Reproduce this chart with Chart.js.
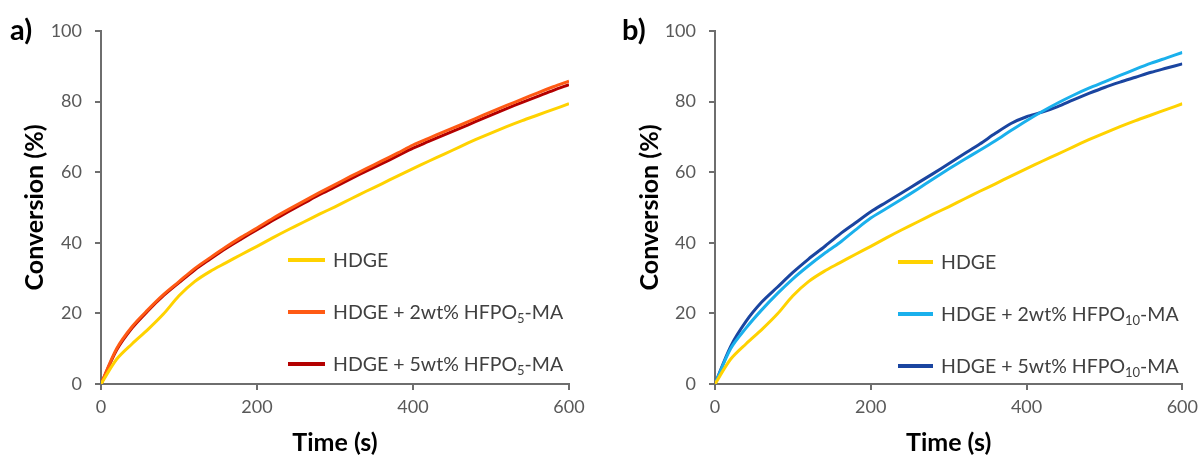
<!DOCTYPE html>
<html>
<head>
<meta charset="utf-8">
<script src="https://cdn.jsdelivr.net/npm/chart.js@4.4.1/dist/chart.umd.min.js"></script>
<style>
  body { margin: 0; background: #fff; font-family: Lato, "Noto Sans", sans-serif; }
  #wrap { position: relative; width: 1200px; height: 455px; overflow: hidden; }
  .panel { position: absolute; top: 0; width: 600px; height: 455px; }
  .tag { position: absolute; top: 11px; font-weight: bold; font-size: 29px; color: #000; }
  .legend { position: absolute; color: #404040; font-size: 19.5px; }
  .legend .row { position: absolute; left: 0; height: 24px; line-height: 24px; white-space: nowrap; }
  .legend .sw { position: absolute; top: 10px; height: 4px; }
  .legend .txt { position: absolute; top: 0; }
  .legend sub { font-size: 13px; vertical-align: -4px; line-height: 0; }
</style>
</head>
<body>
<div id="wrap">
  <div class="panel" style="left:0"><canvas id="chart-a"></canvas></div>
  <div class="panel" style="left:604px"><canvas id="chart-b"></canvas></div>
  <div class="tag" style="left:10px">a)</div>
  <div class="tag" style="left:622px">b)</div>
  <div class="legend" id="legend-a" style="left:288px; top:248px"></div>
  <div class="legend" id="legend-b" style="left:898px; top:250px"></div>
</div>
<script>
// time axis (s)
const timeS = [0, 20, 40, 60, 80, 100, 120, 140, 160, 180, 200, 220, 240, 260, 280, 300,
  320, 340, 360, 380, 400, 420, 440, 460, 480, 500, 520, 540, 560, 580, 600];

// conversion (%)
const hdge = [0, 7.0, 11.4, 15.4, 19.8, 25.0, 29.0, 31.9, 34.3, 36.7, 39.0, 41.4, 43.7, 45.9, 48.1, 50.2,
  52.4, 54.6, 56.7, 58.9, 61.0, 63.1, 65.1, 67.2, 69.2, 71.1, 72.9, 74.6, 76.2, 77.8, 79.4];
const hfpo5Wt2 = [0, 10.0, 16.3, 21.0, 25.3, 29.0, 32.7, 35.8, 38.8, 41.6, 44.2, 46.9, 49.4, 51.8, 54.2, 56.5,
  58.8, 61.0, 63.2, 65.4, 67.7, 69.6, 71.5, 73.3, 75.2, 77.1, 78.9, 80.7, 82.5, 84.2, 85.8];
const hfpo5Wt5 = [0, 9.6, 15.9, 20.7, 25.0, 28.7, 32.3, 35.4, 38.4, 41.1, 43.7, 46.3, 48.8, 51.2, 53.6, 55.8,
  58.1, 60.3, 62.4, 64.6, 66.8, 68.7, 70.6, 72.4, 74.3, 76.2, 78.0, 79.8, 81.5, 83.2, 84.8];
const hfpo10Wt2 = [0, 10.0, 15.9, 21.0, 25.6, 29.8, 33.5, 36.9, 40.0, 43.6, 47.0, 49.7, 52.4, 55.2, 58.1, 60.9,
  63.6, 66.2, 68.9, 71.8, 74.6, 77.2, 79.6, 81.8, 83.8, 85.6, 87.4, 89.2, 90.9, 92.4, 93.9];
const hfpo10Wt5 = [0, 10.6, 17.8, 23.2, 27.4, 31.6, 35.4, 38.8, 42.4, 45.6, 48.8, 51.5, 54.2, 56.9, 59.6, 62.4,
  65.2, 68.0, 71.0, 73.8, 75.7, 77.0, 78.6, 80.5, 82.3, 84.0, 85.5, 86.9, 88.3, 89.5, 90.7];

const xTicks = [0, 200, 400, 600];
const yTicks = [0, 20, 40, 60, 80, 100];

const axisGray = '#6e6e6e';
const fontFamily = 'Lato, "Noto Sans", sans-serif';

function toPoints(values) {
  return values.map((v, i) => ({ x: timeS[i], y: v }));
}

function makeDataset(label, values, color) {
  return {
    label: label,
    data: toPoints(values),
    borderColor: color,
    backgroundColor: color,
    borderWidth: 3,
    pointRadius: 0,
    tension: 0.3,
    fill: false
  };
}

// one panel; yWidth/rightPad/titleOffset place the plot area like the figure
function makePanel(canvasId, datasets, yWidth, rightPad, titleOffset) {
  const ctx = document.getElementById(canvasId).getContext('2d');
  return new Chart(ctx, {
    type: 'line',
    data: { datasets: datasets },
    options: {
      responsive: true,
      maintainAspectRatio: false,
      animation: false,
      layout: { padding: { top: 31, right: rightPad, bottom: 0, left: 0 } },
      plugins: { legend: { display: false }, tooltip: { enabled: false } },
      scales: {
        x: {
          type: 'linear',
          min: 0, max: 600,
          afterBuildTicks: s => { s.ticks = xTicks.map(v => ({ value: v })); },
          afterFit: s => { s.height = 71; },
          grid: { drawOnChartArea: false, drawTicks: true, tickLength: 6, color: axisGray, lineWidth: 2 },
          border: { display: true, color: axisGray, width: 2 },
          ticks: { color: '#595959', padding: 6, font: { family: fontFamily, size: 18 } },
          title: {
            display: true, text: 'Time (s)', color: '#000',
            font: { family: fontFamily, size: 25, weight: 'bold', lineHeight: 1 },
            padding: { top: 0, bottom: 0 }
          }
        },
        y: {
          min: 0, max: 100,
          afterBuildTicks: s => { s.ticks = yTicks.map(v => ({ value: v })); },
          afterFit: s => { s.width = yWidth; },
          grid: { drawOnChartArea: false, drawTicks: true, tickLength: 6, color: axisGray, lineWidth: 2 },
          border: { display: true, color: axisGray, width: 2 },
          ticks: { color: '#595959', padding: 13, font: { family: fontFamily, size: 18 } },
          title: {
            display: true, text: 'Conversion (%)', color: '#000',
            font: { family: fontFamily, size: 25, weight: 'bold', lineHeight: 1 },
            padding: { top: titleOffset, bottom: 0 }
          }
        }
      }
    }
  });
}

// html legend placed inside the plot area
function buildLegend(id, chart, labels, textLeft, rowGap) {
  const box = document.getElementById(id);
  chart.data.datasets.forEach((ds, i) => {
    const row = document.createElement('div');
    row.className = 'row';
    row.style.top = (i * rowGap) + 'px';
    row.innerHTML = `<span class="sw" style="left:0; width:${textLeft - 8}px; background:${ds.borderColor}"></span>
                     <span class="txt" style="left:${textLeft}px">${labels[i]}</span>`;
    box.appendChild(row);
  });
}

const yellow = '#FFD200';
const chartA = makePanel('chart-a', [
  makeDataset('HDGE', hdge, yellow),
  makeDataset('HDGE + 2wt% HFPO5-MA', hfpo5Wt2, '#FF5A14'),
  makeDataset('HDGE + 5wt% HFPO5-MA', hfpo5Wt5, '#B40000')
], 101, 31, 22);

const chartB = makePanel('chart-b', [
  makeDataset('HDGE', hdge, yellow),
  makeDataset('HDGE + 2wt% HFPO10-MA', hfpo10Wt2, '#1AB0EC'),
  makeDataset('HDGE + 5wt% HFPO10-MA', hfpo10Wt5, '#1A45A0')
], 111, 8, 33);

buildLegend('legend-a', chartA, ['HDGE', 'HDGE + 2wt% HFPO<sub>5</sub>-MA', 'HDGE + 5wt% HFPO<sub>5</sub>-MA'], 45, 52);
buildLegend('legend-b', chartB, ['HDGE', 'HDGE + 2wt% HFPO<sub>10</sub>-MA', 'HDGE + 5wt% HFPO<sub>10</sub>-MA'], 43, 52);
</script>
</body>
</html>
